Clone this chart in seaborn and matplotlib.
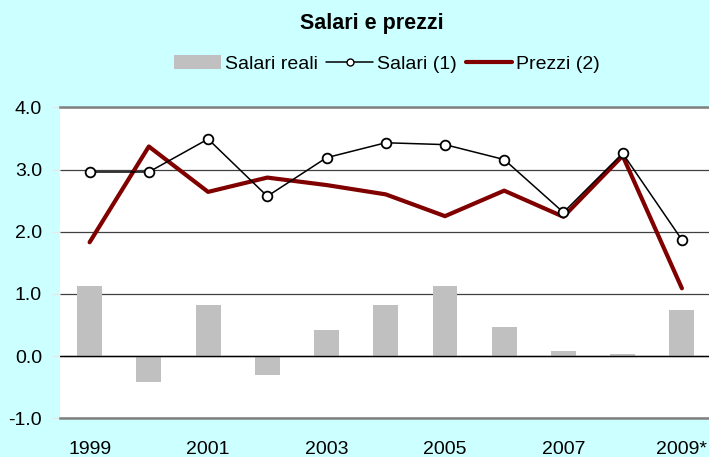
import numpy as np
import seaborn as sns
from matplotlib import pyplot as plt
from matplotlib.patches import Patch
from matplotlib.lines import Line2D

# dati
anni          = ["1999", "2000", "2001", "2002", "2003", "2004",
                 "2005", "2006", "2007", "2008", "2009*"]
salari_reali  = [1.13, -0.41, 0.82, -0.30, 0.42, 0.82, 1.13, 0.47, 0.08, 0.04, 0.74]
salari        = [2.96, 2.96, 3.49, 2.57, 3.19, 3.43, 3.40, 3.16, 2.31, 3.26, 1.87]
prezzi        = [1.83, 3.37, 2.64, 2.87, 2.75, 2.60, 2.25, 2.66, 2.24, 3.22, 1.09]

BG     = "#CCFFFF"
GREY   = "#C0C0C0"
RED    = "#800000"

sns.set_style("white")
plt.rcParams["font.family"] = ["Liberation Sans", "DejaVu Sans"]
plt.rcParams["text.color"] = "black"

fig = plt.figure(figsize=(7.09, 4.57), dpi=100, facecolor=BG)
ax  = fig.add_axes([60 / 709, 1 - 418.3 / 457, 651.5 / 709, 311 / 457])
ax.set_facecolor("white")

pos = np.arange(len(anni))

sns.barplot(x=pos, y=salari_reali, color=GREY, width=0.42, saturation=1,
            edgecolor="none", linewidth=0, ax=ax, zorder=2)
sns.lineplot(x=pos, y=prezzi, color=RED, linewidth=3.0, ax=ax, zorder=3)
sns.lineplot(x=pos, y=salari, color="black", linewidth=1.1, marker="o",
             markersize=7, markerfacecolor="white", markeredgecolor="black",
             markeredgewidth=1.3, ax=ax, zorder=4)

ax.set_xlim(-0.5, len(anni) - 0.5)
ax.set_ylim(-1, 4)
ax.set_yticks([-1, 0, 1, 2, 3, 4])
ax.set_yticklabels(["{0:.1f}".format(v) for v in [-1, 0, 1, 2, 3, 4]])
ax.set_xticks(pos)
ax.set_xticklabels([a if i % 2 == 0 else "" for i, a in enumerate(anni)])
ax.tick_params(axis="x", length=0, pad=16, labelsize=14, labelcolor="black")
ax.tick_params(axis="y", length=6, width=1, color="#e8e8e8", pad=7,
               labelsize=14, left=True, labelcolor="black")

ax.set_axisbelow(True)
ax.yaxis.grid(True, color="#404040", linewidth=0.9)
ax.axhline(0, color="black", linewidth=1.0, zorder=2.5)

for s in ["left", "right"]:
    ax.spines[s].set_visible(False)
for s in ["top", "bottom"]:
    ax.spines[s].set_visible(True)
    ax.spines[s].set_color("#808080")
    ax.spines[s].set_linewidth(1.8)
ax.set_xlabel("")
ax.set_ylabel("")

fig.text(372 / 709, 1 - 24 / 457, "Salari e prezzi", ha="center", va="center",
         fontsize=15.5, fontweight="bold", color="black")

handles = [Patch(facecolor=GREY, edgecolor="none"),
           Line2D([], [], color="black", linewidth=1.1, marker="o", markersize=5,
                  markerfacecolor="white", markeredgecolor="black"),
           Line2D([], [], color=RED, linewidth=3.0)]
fig.legend(handles, ["Salari reali", "Salari (1)", "Prezzi (2)"],
           loc="center", bbox_to_anchor=(387 / 709, 1 - 64 / 457), ncol=3,
           frameon=False, fontsize=14, handlelength=2.4, handletextpad=0.2,
           columnspacing=0.45, borderpad=0, borderaxespad=0, labelcolor="black")

fig.savefig("out.png", dpi=100, facecolor=BG)
